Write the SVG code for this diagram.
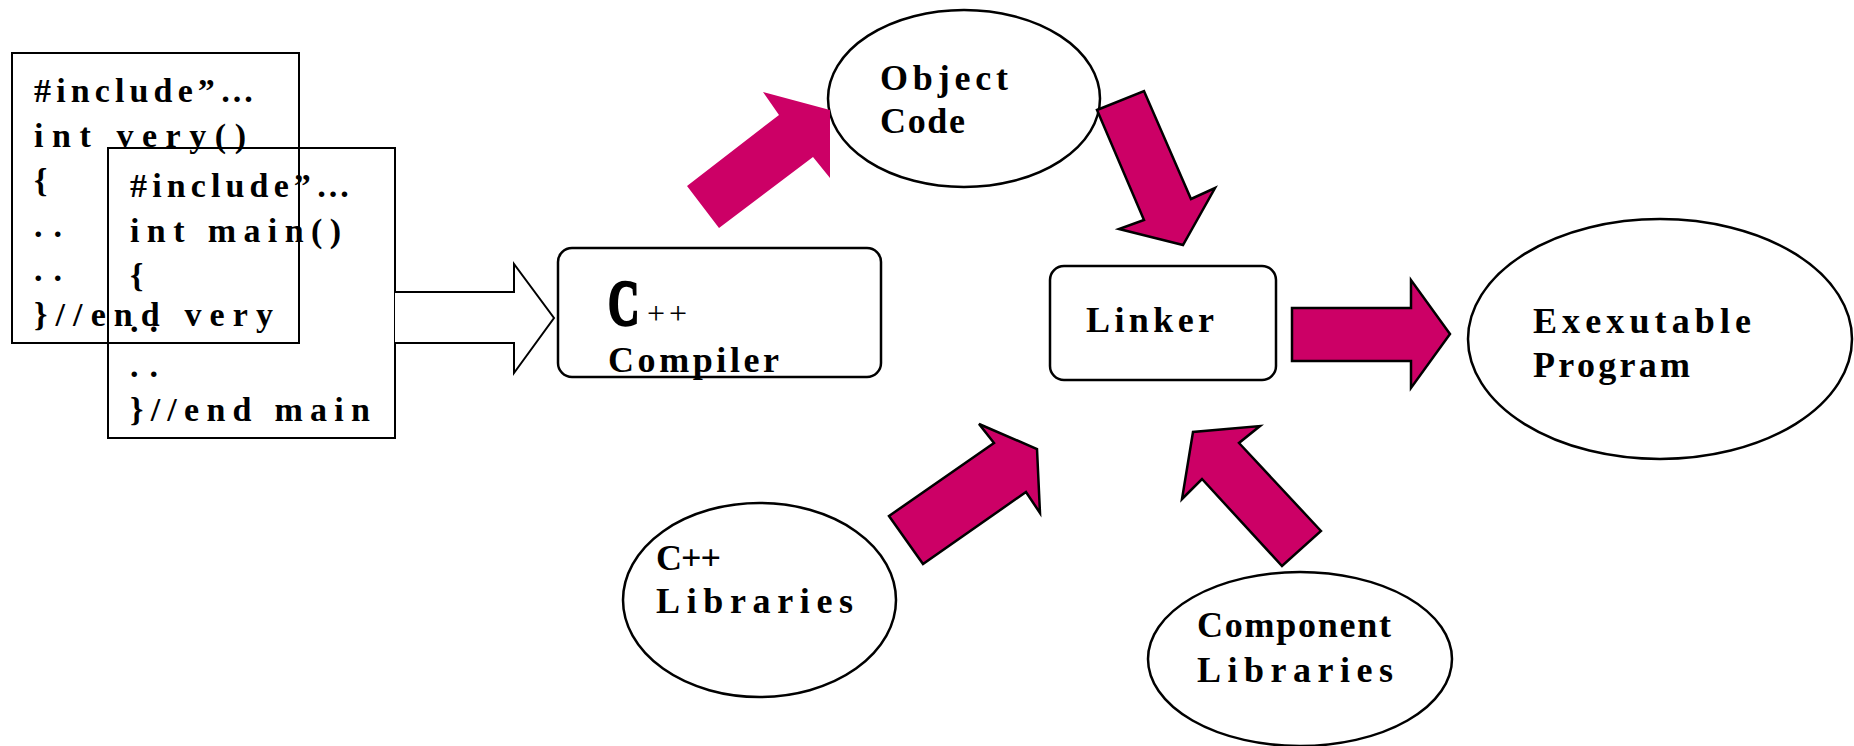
<svg xmlns="http://www.w3.org/2000/svg" width="1854" height="746" viewBox="0 0 1854 746">
<style>
.t{font-family:"Liberation Serif","Times New Roman",serif;font-weight:bold;font-size:36px;fill:#000}
.code{font-family:"Liberation Serif","Times New Roman",serif;font-weight:bold;font-size:34px;fill:#000}
.box{fill:none;stroke:#000;stroke-width:2}
.node{fill:#fff;stroke:#000;stroke-width:2.5}
.arr{fill:#CC0066;stroke:#000;stroke-width:2.5;stroke-linejoin:miter}
.arrn{fill:#CC0066;stroke:none}
.hollow{fill:#fff;stroke:#000;stroke-width:2}
</style>
<rect width="1854" height="746" fill="#fff"/>
<g id="source-very">
<rect class="box" x="12" y="53" width="287" height="290"/>
<text class="code" x="34" y="102" textLength="220" lengthAdjust="spacing">#include”…</text>
<text class="code" x="34" y="147" textLength="212" lengthAdjust="spacing">int very()</text>
<text class="code" x="34" y="192">{</text>
<text class="code" x="34" y="237" textLength="28" lengthAdjust="spacing">..</text>
<text class="code" x="34" y="281" textLength="28" lengthAdjust="spacing">..</text>
<text class="code" x="34" y="326" textLength="239" lengthAdjust="spacing">}//end very</text>
</g>
<g id="source-main">
<rect class="box" x="108" y="148" width="287" height="290"/>
<text class="code" x="130" y="197" textLength="220" lengthAdjust="spacing">#include”…</text>
<text class="code" x="130" y="242" textLength="211" lengthAdjust="spacing">int main()</text>
<text class="code" x="130" y="287">{</text>
<text class="code" x="130" y="332" textLength="28" lengthAdjust="spacing">..</text>
<text class="code" x="130" y="377" textLength="28" lengthAdjust="spacing">..</text>
<text class="code" x="130" y="421" textLength="240" lengthAdjust="spacing">}//end main</text>
</g>
<g id="compiler">
<rect class="node" x="558" y="248" width="323" height="129" rx="14"/>
<text class="t" transform="translate(608,325) scale(0.66,1)" style="font-size:66px;stroke:#000;stroke-width:2.5">C</text>
<text class="t" x="647" y="324" style="font-size:32px;font-weight:normal" textLength="40" lengthAdjust="spacing">++</text>
<text class="t" x="608" y="372" textLength="171" lengthAdjust="spacing">Compiler</text>
</g>
<g id="object-code">
<ellipse class="node" cx="964" cy="98.5" rx="136" ry="88.5"/>
<text class="t" x="880" y="90" textLength="128" lengthAdjust="spacing">Object</text>
<text class="t" x="880" y="133" textLength="85" lengthAdjust="spacing">Code</text>
</g>
<g id="linker">
<rect class="node" x="1050" y="266" width="226" height="114" rx="14"/>
<text class="t" x="1086" y="332" textLength="128" lengthAdjust="spacing">Linker</text>
</g>
<g id="executable">
<ellipse class="node" cx="1660" cy="339" rx="192" ry="120"/>
<text class="t" x="1533" y="333" textLength="218" lengthAdjust="spacing">Exexutable</text>
<text class="t" x="1533" y="377" textLength="157" lengthAdjust="spacing">Program</text>
</g>
<g id="cpp-libraries">
<ellipse class="node" cx="759.5" cy="600" rx="136.5" ry="97"/>
<text class="t" x="656" y="570" textLength="65" lengthAdjust="spacing">C++</text>
<text class="t" x="656" y="613" textLength="197" lengthAdjust="spacing">Libraries</text>
</g>
<g id="component-libraries">
<ellipse class="node" cx="1300" cy="659" rx="152" ry="87"/>
<text class="t" x="1197" y="637" textLength="194" lengthAdjust="spacing">Component</text>
<text class="t" x="1197" y="682" textLength="196" lengthAdjust="spacing">Libraries</text>
</g>
<g id="connectors">
<path class="hollow" d="M395,292 H514 V264 L554,318 L514,373 V343 H395"/>
<polygon class="arrn" points="687,186 779,115 763,92 830,110 830,178 813,157 719,228"/>
<polygon class="arr" points="1097,110 1144,91 1191,199 1215,188 1183,245 1119,229 1144,220"/>
<polygon class="arr" points="1292,308 1411,308 1411,280 1450,334 1411,388 1411,361 1292,361"/>
<polygon class="arr" points="889,516 994,443 979,424 1037,449 1040,513 1026,492 923,564"/>
<polygon class="arr" points="1321,531 1239,443 1260,426 1193,432 1182,499 1202,479 1282,566"/>
</g>
</svg>
